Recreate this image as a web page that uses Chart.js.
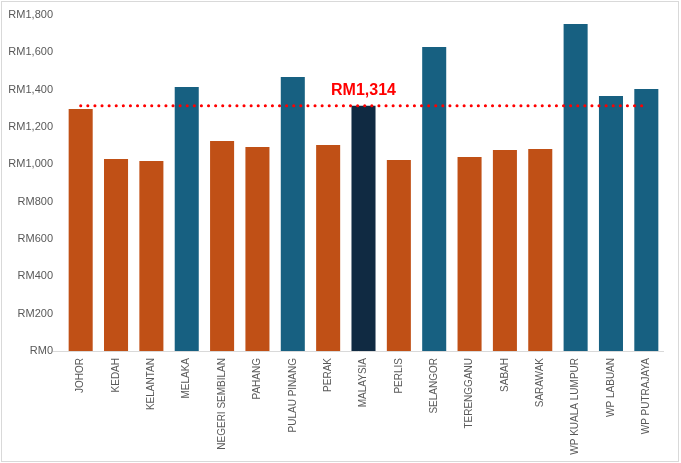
<!DOCTYPE html>
<html lang="en">
<head>
    <meta charset="UTF-8" />
    <title>Average wage by state</title>
    <script src="https://cdn.jsdelivr.net/npm/chart.js"></script>
    <style>
        html,
        body {
            margin: 0;
            padding: 0;
            background: #ffffff;
        }

        .frame {
            position: absolute;
            left: 1px;
            top: 1px;
            width: 676px;
            height: 459px;
            border: 1px solid #d9d9d9;
        }
    </style>
</head>
<body>
    <div class="frame">
        <canvas id="wageChart"></canvas>
    </div>
    <script>
        const states = ["JOHOR", "KEDAH", "KELANTAN", "MELAKA", "NEGERI SEMBILAN", "PAHANG",
            "PULAU PINANG", "PERAK", "MALAYSIA", "PERLIS", "SELANGOR", "TERENGGANU",
            "SABAH", "SARAWAK", "WP KUALA LUMPUR", "WP LABUAN", "WP PUTRAJAYA"];
        const values = [1296, 1029, 1018, 1414, 1125, 1093, 1468, 1104, 1314, 1023,
            1629, 1039, 1077, 1082, 1752, 1366, 1404];
        const average = 1314;
        const yTicks = [0, 200, 400, 600, 800, 1000, 1200, 1400, 1600, 1800];

        const ORANGE = "#c05016";
        const BLUE = "#176081";
        const NAVY = "#102a42";

        function barColour(ctx) {
            const name = states[ctx.dataIndex];
            const v = values[ctx.dataIndex];
            if (name === "MALAYSIA") return NAVY;
            return v > average ? BLUE : ORANGE;
        }

        const fmt = v => "RM" + v.toLocaleString("en-US");

        // category axis line runs a little past the plot on the left, like Excel draws it
        const baseLine = {
            id: "baseLine",
            beforeDatasetsDraw(chart) {
                const a = chart.chartArea;
                const c = chart.ctx;
                c.save();
                c.strokeStyle = "#d9d9d9";
                c.lineWidth = 1;
                c.beginPath();
                c.moveTo(a.left - 10, a.bottom + 0.5);
                c.lineTo(a.right, a.bottom + 0.5);
                c.stroke();
                c.restore();
            }
        };

        // red label sitting on the average line, above the MALAYSIA bar
        const averageLabel = {
            id: "averageLabel",
            afterDatasetsDraw(chart) {
                const x = chart.scales.x.getPixelForValue(states.indexOf("MALAYSIA"));
                const y = chart.scales.y.getPixelForValue(average);
                const c = chart.ctx;
                c.save();
                c.fillStyle = "#ff0000";
                c.font = "bold 16px 'Liberation Sans', Arial, sans-serif";
                c.textAlign = "center";
                c.textBaseline = "bottom";
                c.fillText(fmt(average), x, y - 7);
                c.restore();
            }
        };

        new Chart(document.getElementById("wageChart"), {
            data: {
                labels: states,
                datasets: [
                    {
                        type: "line",
                        label: "Average",
                        data: states.map(() => average),
                        borderColor: "#ff0000",
                        borderWidth: 3,
                        borderDash: [0.1, 7],
                        borderCapStyle: "round",
                        pointRadius: 0,
                        fill: false,
                        order: 0
                    },
                    {
                        type: "bar",
                        label: "Wage",
                        data: values,
                        backgroundColor: barColour,
                        categoryPercentage: 1,
                        barPercentage: 0.68,
                        order: 1
                    }
                ]
            },
            options: {
                responsive: true,
                maintainAspectRatio: false,
                animation: false,
                layout: {
                    padding: { top: 13, right: 14, bottom: 0, left: 0 }
                },
                plugins: {
                    legend: { display: false },
                    tooltip: { enabled: false }
                },
                scales: {
                    x: {
                        grid: { display: false, drawTicks: false },
                        border: { display: false },
                        ticks: {
                            minRotation: 90,
                            maxRotation: 90,
                            autoSkip: false,
                            padding: 7,
                            color: "#595959",
                            font: { family: "'Liberation Sans', Arial, sans-serif", size: 10 }
                        },
                        afterFit(scale) { scale.height = 110; }
                    },
                    y: {
                        min: 0,
                        max: 1800,
                        afterBuildTicks(scale) {
                            scale.ticks = yTicks.map(v => ({ value: v }));
                        },
                        grid: { display: false, drawTicks: false },
                        border: { display: false },
                        ticks: {
                            padding: 10,
                            color: "#595959",
                            font: { family: "'Liberation Sans', Arial, sans-serif", size: 11 },
                            callback: v => fmt(v)
                        },
                        afterFit(scale) {
                            scale.width = 61;
                            scale.paddingTop = 0;
                        }
                    }
                }
            },
            plugins: [baseLine, averageLabel]
        });
    </script>
</body>
</html>
